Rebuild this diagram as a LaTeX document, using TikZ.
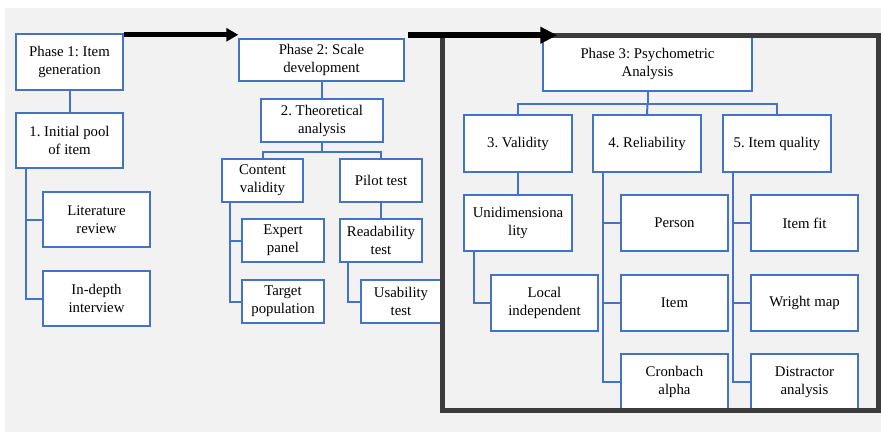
\documentclass[tikz,border=0pt]{standalone}
\usepackage{fontspec}
\setmainfont{Liberation Serif}
\usetikzlibrary{arrows.meta,calc}
\definecolor{bgc}{HTML}{F2F2F2}
\definecolor{wblue}{HTML}{4472C4}
\definecolor{frc}{HTML}{3C3C3C}
\frenchspacing
\begin{document}
\begin{tikzpicture}[x=1pt,y=-1pt,
  box/.style={draw=wblue, line width=1.5pt, fill=white, align=center, inner sep=1pt,
    font=\fontsize{14.8}{18}\selectfont},
  conn/.style={draw=wblue, line width=2pt},
  framebox/.style={draw=frc, line width=5pt, inner sep=0pt},
  bigarrow/.style={draw=black, line width=#1}]
\fill[white] (0,0) rectangle (881,432);
\fill[bgc] (5,8) rectangle (881,432);
\useasboundingbox (0,0) rectangle (881,432);

% Phase 1
\node[box, minimum width=107pt, minimum height=56pt] (p1) at (69.5,62) {Phase 1: Item\\generation};
\node[box, minimum width=107pt, minimum height=55pt] (ip) at (69.5,140.5) {1. Initial pool\\of item};
\node[box, minimum width=107pt, minimum height=55pt] (lit) at (96.5,219.5) {Literature\\review};
\node[box, minimum width=107pt, minimum height=55pt] (idi) at (96.5,298.5) {In-depth\\interview};

% Phase 2
\node[box, minimum width=165pt, minimum height=42pt] (p2) at (321.5,60) {Phase 2: Scale\\development};
\node[box, minimum width=122pt, minimum height=43pt] (ta) at (322,120.5) {2. Theoretical\\analysis};
\node[box, minimum width=81pt, minimum height=43pt] (cv) at (262.5,180.5) {Content\\validity};
\node[box, minimum width=82pt, minimum height=43pt] (pt) at (381,180.5) {Pilot test};
\node[box, minimum width=82pt, minimum height=43pt] (ep) at (283,240.5) {Expert\\panel};
\node[box, minimum width=82pt, minimum height=43pt] (tp) at (283,301.5) {Target\\population};
\node[box, minimum width=82pt, minimum height=43pt] (rt) at (381,240.5) {Readability\\test};
\node[box, minimum width=80pt, minimum height=43pt] (ut) at (401,301.5) {Usability\\test};

% Phase 3
\node[box, minimum width=209pt, minimum height=54pt] (p3) at (647.5,64) {Phase 3: Psychometric\\Analysis};
\node[box, minimum width=108pt, minimum height=57pt] (va) at (518,143.5) {3. Validity};
\node[box, minimum width=108pt, minimum height=57pt] (re) at (647,143.5) {4. Reliability};
\node[box, minimum width=108pt, minimum height=57pt] (iq) at (777,143.5) {5. Item quality};
\node[box, minimum width=108pt, minimum height=56pt] (un) at (518,223) {Unidimensiona\\lity};
\node[box, minimum width=107pt, minimum height=56pt] (li) at (544.5,303) {Local\\independent};
\node[box, minimum width=107pt, minimum height=56pt] (pe) at (674.5,223) {Person};
\node[box, minimum width=107pt, minimum height=56pt] (it) at (674.5,303) {Item};
\node[box, minimum width=107pt, minimum height=56pt] (ca) at (674.5,382) {Cronbach\\alpha};
\node[box, minimum width=107pt, minimum height=56pt] (ifit) at (804.5,223) {Item fit};
\node[box, minimum width=107pt, minimum height=56pt] (wm) at (804.5,303) {Wright map};
\node[box, minimum width=107pt, minimum height=56pt] (da) at (804.5,382) {Distractor\\analysis};

% connectors phase 1
\draw[conn] (p1) -- (ip);
\draw[conn] ($(ip.south west)+(11,0)$) |- (lit.west);
\draw[conn] ($(ip.south west)+(11,0)$) |- (idi.west);
% connectors phase 2
\draw[conn] (p2.south -| ta.north) -- (ta.north);
\draw[conn] (ta.south) -- ++(0,9);
\draw[conn] (cv.north) |- ($(ta.south)+(0,9)$) -| (pt.north);
\draw[conn] ($(cv.south west)+(9,0)$) |- (ep.west);
\draw[conn] ($(cv.south west)+(9,0)$) |- (tp.west);
\draw[conn] (pt) -- (rt);
\draw[conn] ($(rt.south west)+(9,0)$) |- (ut.west);
% connectors phase 3
\draw[conn] (p3.south) -- ++(0,12);
\draw[conn] (va.north) |- ($(p3.south)+(0,12)$) -| (iq.north);
\draw[conn] ($(p3.south)+(0,12)$) -- (re.north);
\draw[conn] (va) -- (un);
\draw[conn] ($(un.south west)+(11,0)$) |- (li.west);
\draw[conn] ($(re.south west)+(11,0)$) |- (pe.west);
\draw[conn] ($(re.south west)+(11,0)$) |- (it.west);
\draw[conn] ($(re.south west)+(11,0)$) |- (ca.west);
\draw[conn] ($(iq.south west)+(11,0)$) |- (ifit.west);
\draw[conn] ($(iq.south west)+(11,0)$) |- (wm.west);
\draw[conn] ($(iq.south west)+(11,0)$) |- (da.west);

% frame round phase 3
\node[framebox, minimum width=436pt, minimum height=375pt] (fr) at (660,222.5) {};

% arrows
\draw[bigarrow=5pt, -{Triangle[length=12pt,width=13pt]}]
  ($(p1.north east)+(0,1.5)$) -- ($(p2.north west)+(0,-3.5)$);
\draw[bigarrow=6pt, -{Triangle[length=17pt,width=16pt]}]
  ($(p2.north east)+(3,-3)$) -- ($(p3.north west)+(15,-1)$);
\end{tikzpicture}
\end{document}
